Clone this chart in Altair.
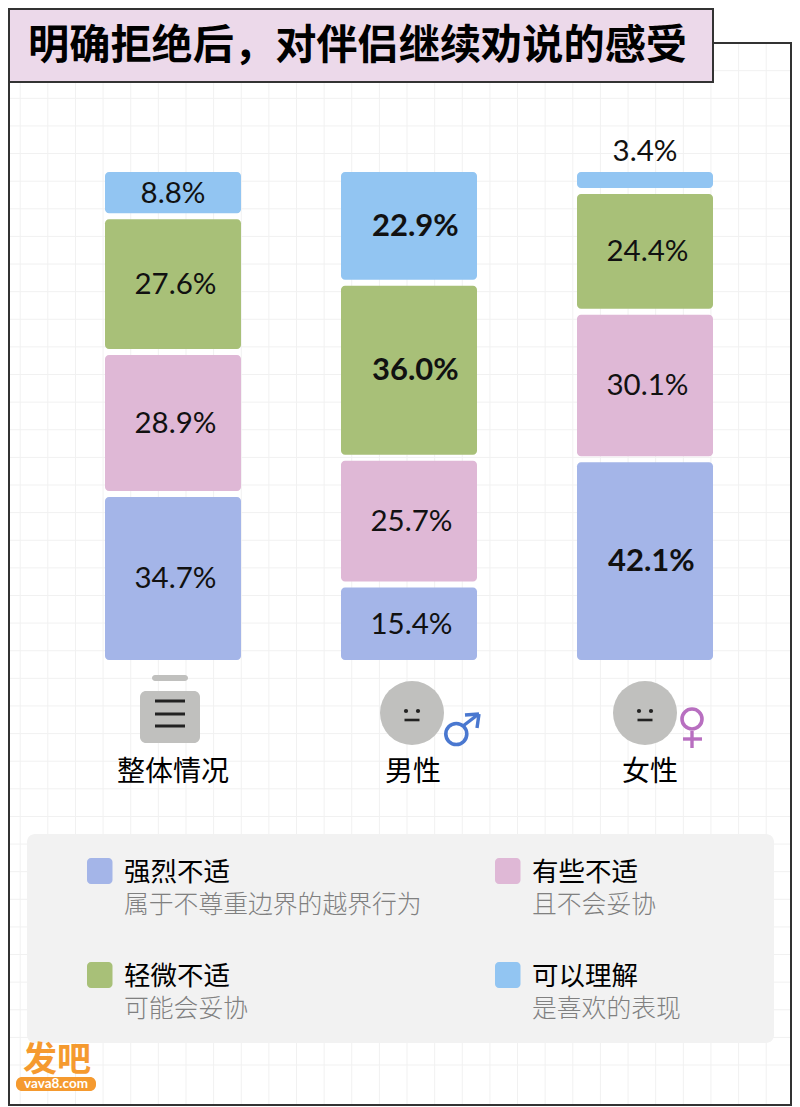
import altair as alt
import pandas as pd

# ---- data ----
groups = ["整体情况", "男性", "女性"]
levels = ["强烈不适", "有些不适", "轻微不适", "可以理解"]
level_notes = ["属于不尊重边界的越界行为", "且不会妥协", "可能会妥协", "是喜欢的表现"]
overall = [34.7, 28.9, 27.6, 8.8]
male = [15.4, 25.7, 36.0, 22.9]
female = [42.1, 30.1, 24.4, 3.4]
bold_labels = {("男性", "可以理解"), ("男性", "轻微不适"), ("女性", "强烈不适")}
title_text = "明确拒绝后，对伴侣继续劝说的感受"

# ---- styles / layout ----
colors = ["#a4b5e8", "#dfb8d6", "#a8c078", "#92c5f2"]
CJK = "Noto Sans CJK SC"
NUM = "Lato"
GAP = 6 / 4.7  # gap between segments, in percent units
GREY = "#c0c0be"
INK = "#222222"
M = 8  # page margin: all layout numbers below are page pixels, shifted by this

rows = []
for g, vals in zip(groups, [overall, male, female]):
    base = 0.0
    for lv, v in zip(levels, vals):
        rows.append(dict(group=g, level=lv, value=v, y0=base, y1=base + v, mid=base + v / 2,
                         label=f"{v:.1f}%", bold=(g, lv) in bold_labels))
        base += v + GAP
df = pd.DataFrame(rows)

x_scale = alt.Scale(type="band", domain=groups, range=[105 - M, 713 - M], paddingInner=100 / 236, paddingOuter=0)
y_scale = alt.Scale(domain=[0, 100 + 3 * GAP], range=[660 - M, 172 - M], nice=False, zero=False)
X = alt.X("group:N", scale=x_scale, axis=None)


def V(v):
    return alt.value(v - M)


def one():
    return pd.DataFrame({"a": [0]})


def rect(x0, y0, x1, y1, **kw):
    return alt.Chart(one()).mark_rect(**kw).encode(x=V(x0), x2=V(x1), y=V(y0), y2=V(y1))


def rule(x0, y0, x1, y1, color, w, cap="round"):
    return alt.Chart(one()).mark_rule(color=color, strokeWidth=w, strokeCap=cap).encode(
        x=V(x0), x2=V(x1), y=V(y0), y2=V(y1))


def text(s, x, y, size, color="#000000", font=CJK, weight="normal", align="left"):
    return alt.Chart(pd.DataFrame({"t": [s]})).mark_text(
        font=font, fontSize=size, color=color, fontWeight=weight, align=align, baseline="middle"
    ).encode(x=V(x), y=V(y), text="t:N")


def ring(x, y, size, color, w):
    return alt.Chart(one()).mark_point(
        shape="circle", filled=False, size=size, stroke=color, strokeWidth=w, opacity=1
    ).encode(x=V(x), y=V(y))


def dot(x, y, size, color):
    return alt.Chart(one()).mark_point(
        shape="circle", filled=True, size=size, color=color, opacity=1
    ).encode(x=V(x), y=V(y))


layers = []

# background grid
grid_x = pd.DataFrame({"p": [20.2 + 27.63 * i - M for i in range(28)]})
grid_y = pd.DataFrame({"p": [70.7 + 27.62 * i - M for i in range(37)]})
layers.append(alt.Chart(grid_x).mark_rule(color="#f1f1f1", strokeWidth=1).encode(
    x=alt.X("p:Q", scale=None, axis=None), y=V(43), y2=V(1105)))
layers.append(alt.Chart(grid_y).mark_rule(color="#f1f1f1", strokeWidth=1).encode(
    y=alt.Y("p:Q", scale=None, axis=None), x=V(9), x2=V(791)))

# frame and title box
layers.append(rect(9, 43, 791, 1105, filled=False, stroke="#333333", strokeWidth=2))
layers.append(rect(9, 9, 713, 82, fill="#ecd9ea", stroke="#333333", strokeWidth=2))
layers.append(text(title_text, 28, 47, 41.2, color="#000000", weight="bold"))

# stacked bars
layers.append(alt.Chart(df).mark_bar(cornerRadius=4).encode(
    x=X,
    y=alt.Y("y1:Q", scale=y_scale, axis=None),
    y2="y0:Q",
    color=alt.Color("level:N", scale=alt.Scale(domain=levels, range=colors), legend=None),
))

# value labels
inner = df[df["value"] >= 10]
layers.append(alt.Chart(inner[~inner["bold"]]).mark_text(
    font=NUM, fontSize=29.5, color="#111111", align="left", baseline="middle", dx=-38.5, dy=1
).encode(x=X, y=alt.Y("mid:Q", scale=y_scale, axis=None), text="label:N"))
layers.append(alt.Chart(inner[inner["bold"]]).mark_text(
    font=NUM, fontSize=31, fontWeight="bold", color="#111111", align="left", baseline="middle", dx=-37, dy=1
).encode(x=X, y=alt.Y("mid:Q", scale=y_scale, axis=None), text="label:N"))
wide = df[(df["value"] < 10) & (df["value"] > 5)]
layers.append(alt.Chart(wide).mark_text(
    font=NUM, fontSize=29.5, color="#111111", align="center", baseline="middle", dy=1
).encode(x=X, y=alt.Y("mid:Q", scale=y_scale, axis=None), text="label:N"))
thin = df[df["value"] <= 5]
layers.append(alt.Chart(thin).mark_text(
    font=NUM, fontSize=29.5, color="#111111", align="center", baseline="middle", dy=-20
).encode(x=X, y=alt.Y("y1:Q", scale=y_scale, axis=None), text="label:N"))

# category labels
for g, dx in zip(groups, [0, 4, 5]):
    layers.append(alt.Chart(pd.DataFrame({"group": [g]})).mark_text(
        font=CJK, fontSize=28, color="#000000", align="center", baseline="middle", dx=dx
    ).encode(x=X, y=V(773), text="group:N"))

# icons: overall
layers.append(rect(152, 675, 188, 681, fill=GREY, cornerRadius=3))
layers.append(rect(140, 691, 200, 743, fill=GREY, cornerRadius=6))
for yy in (701, 714, 726):
    layers.append(rule(155, yy, 185, yy, INK, 3, "butt"))

# icons: faces
for cx in (412, 645):
    layers.append(dot(cx, 713, 4096, GREY))
    layers.append(dot(cx - 6, 711, 18, INK))
    layers.append(dot(cx + 6, 711, 18, INK))
    layers.append(rule(cx - 7.5, 720, cx + 7.5, 720, INK, 2.6, "butt"))

# male symbol
MC = "#4a78d0"
layers.append(ring(456.3, 734, 441, MC, 3.6))
layers.append(rule(463, 726, 478, 714.5, MC, 3.4, "butt"))
layers.append(rule(465, 715, 479, 714, MC, 3.4, "butt"))
layers.append(rule(479, 714, 477, 728, MC, 3.4, "butt"))

# female symbol
FC = "#b86fc0"
layers.append(ring(692, 719, 400, FC, 3.6))
layers.append(rule(692, 731, 692, 748, FC, 3.4, "butt"))
layers.append(rule(683, 739, 702, 739, FC, 3.4, "butt"))

# legend panel
layers.append(rect(27, 834, 774, 1043, fill="#f2f2f2", cornerRadius=8))
for lv, note, col, (sx, sy) in zip(levels, level_notes, colors, [(87, 858), (495, 858), (87, 962), (495, 962)]):
    layers.append(rect(sx, sy, sx + 25.5, sy + 26, fill=col, cornerRadius=4))
    layers.append(text(lv, sx + 37, sy + 15, 26.5, color="#000000"))
    layers.append(text(note, sx + 37, sy + 48, 24.8, color="#808080", weight=300))

# logo
layers.append(text("发吧", 23, 1061, 34, color="#f59a2f", weight="bold"))
layers.append(rect(16, 1077, 96, 1091, fill="#f59a2f", cornerRadius=6))
layers.append(text("vava8.com", 56, 1084, 13.5, color="#ffffff", font="Lato", weight="bold", align="center"))

chart = alt.layer(*layers).resolve_scale(x="independent", y="independent", color="independent").properties(
    width=800 - 2 * M,
    height=1107 - M,
    autosize=alt.AutoSizeParams(type="none"),
    padding=0,
    background="#ffffff",
).configure_view(stroke=None)

chart.save("out.html", embed_options={"renderer": "svg", "actions": False})
